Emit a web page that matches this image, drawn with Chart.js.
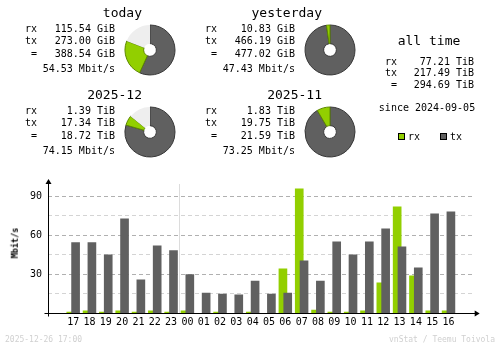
<!DOCTYPE html>
<html>
<head>
<meta charset="utf-8">
<title>vnStat summary</title>
<script src="https://cdn.jsdelivr.net/npm/chart.js@4/dist/chart.umd.min.js"></script>
<style>
  body { margin: 0; background: #fff; }
  #img { position: relative; width: 500px; height: 348px; overflow: hidden; background: #fff;
         font-family: "DejaVu Sans Mono", monospace; color: #000; }
  #img canvas { position: absolute; }
  .txt { position: absolute; white-space: pre; line-height: 1; transform: translateY(-50%); }
</style>
</head>
<body>
<div id="img">
  <canvas id="hours" width="500" height="348" style="left:0;top:0"></canvas>
</div>
<script>
// summary periods
const periods = ['today', 'yesterday', '2025-12', '2025-11'];
const rxTraffic = [115.54, 10.83, 1.39, 1.83];
const txTraffic = [273.00, 466.19, 17.34, 19.75];
const totalTraffic = [388.54, 477.02, 18.72, 21.59];
const trafficUnits = ['GiB', 'GiB', 'TiB', 'TiB'];
const avgRates = [54.53, 47.43, 74.15, 73.25];
// part of the period not yet elapsed (light slice of the donut)
const restTraffic = [92.1, 0, 3.09, 0];

// all time
const allTimeRx = 77.21;
const allTimeTx = 217.49;
const allTimeTotal = 294.69;
const allTimeUnit = 'TiB';
const sinceDate = '2024-09-05';

// last 24 hours, Mbit/s
const hours = ['17', '18', '19', '20', '21', '22', '23', '00', '01', '02', '03', '04',
               '05', '06', '07', '08', '09', '10', '11', '12', '13', '14', '15', '16'];
const rxRate = [1.0, 1.8, 1.0, 1.8, 1.0, 1.8, 1.0, 1.8, 0, 1.0, 0, 1.0,
                0, 34.1, 95.6, 2.5, 1.0, 1.0, 1.8, 23.3, 81.8, 28.7, 1.8, 1.8];
const txRate = [54.3, 54.3, 44.8, 72.5, 25.6, 51.8, 48.2, 29.7, 15.6, 14.8, 14.1, 24.8,
                14.8, 15.6, 40.2, 24.8, 54.8, 44.8, 54.8, 64.8, 51.0, 34.8, 76.4, 77.9];
const yTicks = [30, 60, 90];

const footerDate = '2025-12-26 17:00';
const footerCredit = 'vnStat / Teemu Toivola';

const RX = '#92CF00', RX_EDGE = '#5E8800';
const TX = '#606060', TX_EDGE = '#383838';
const REST = '#EEEEEE';

Chart.defaults.font.family = '"DejaVu Sans Mono", monospace';
Chart.defaults.color = '#000';

const img = document.getElementById('img');

function text(str, x, y, opts = {}) {
    const d = document.createElement('div');
    d.className = 'txt';
    d.textContent = str;
    d.style.fontSize = (opts.size || 10) + 'px';
    if (opts.color) d.style.color = opts.color;
    if (opts.bold) d.style.fontWeight = 'bold';
    d.style.top = y + 'px';
    if (opts.align === 'right') {
        d.style.right = (500 - x) + 'px';
    } else if (opts.align === 'center') {
        d.style.left = x + 'px';
        d.style.transform = 'translate(-50%, -50%)';
    } else {
        d.style.left = x + 'px';
    }
    img.appendChild(d);
    return d;
}

function donut(cx, cy, i) {
    const c = document.createElement('canvas');
    c.width = 56;
    c.height = 56;
    c.style.left = (cx - 28) + 'px';
    c.style.top = (cy - 28) + 'px';
    img.appendChild(c);
    new Chart(c, {
        type: 'doughnut',
        data: {
            datasets: [{
                data: [txTraffic[i], rxTraffic[i], restTraffic[i]],
                backgroundColor: [TX, RX, REST],
                borderColor: [TX_EDGE, RX_EDGE, REST],
                borderWidth: [1, 1, 0]
            }]
        },
        options: {
            responsive: false,
            animation: false,
            events: [],
            radius: 25,
            cutout: 7,
            plugins: {legend: {display: false}, tooltip: {enabled: false}}
        }
    });
}

// the four period blocks
periods.forEach((name, i) => {
    const ox = (i % 2) * 180;
    const oy = Math.floor(i / 2) * 82;
    const u = trafficUnits[i];
    text(name, ox + 142, oy + 12, {size: 13, align: 'right'});
    text('rx', ox + 25, oy + 28.5);
    text('tx', ox + 25, oy + 41);
    text(' =', ox + 25, oy + 53.5);
    text(rxTraffic[i].toFixed(2) + ' ' + u, ox + 115, oy + 28.5, {align: 'right'});
    text(txTraffic[i].toFixed(2) + ' ' + u, ox + 115, oy + 41, {align: 'right'});
    text(totalTraffic[i].toFixed(2) + ' ' + u, ox + 115, oy + 53.5, {align: 'right'});
    text(avgRates[i].toFixed(2) + ' Mbit/s', ox + 115, oy + 68.5, {align: 'right'});
    donut(ox + 150, oy + 50, i);
});

// all time block
text('all time', 429, 39.5, {size: 13, align: 'center'});
text('rx', 385, 61.5);
text('tx', 385, 73);
text(' =', 385, 85);
text(allTimeRx.toFixed(2) + ' ' + allTimeUnit, 474, 61.5, {align: 'right'});
text(allTimeTx.toFixed(2) + ' ' + allTimeUnit, 474, 73, {align: 'right'});
text(allTimeTotal.toFixed(2) + ' ' + allTimeUnit, 474, 85, {align: 'right'});
text('since ' + sinceDate, 427, 108, {align: 'center'});

// legend
[['rx', RX, 398], ['tx', TX, 440]].forEach(([name, col, x]) => {
    const sq = document.createElement('div');
    sq.style.cssText = `position:absolute;left:${x}px;top:133px;width:5px;height:5px;` +
                       `background:${col};border:1px solid #000`;
    img.appendChild(sq);
    text(name, x + 10, 136.5);
});

// footer
text(footerDate, 5, 340, {size: 8, color: '#D0D0D0'});
text(footerCredit, 495, 340, {size: 8, color: '#D0D0D0', align: 'right'});

// y axis title
const yt = text('Mbit/s', 15, 243, {size: 8.5, bold: true, align: 'center'});
yt.style.transform = 'translate(-50%, -50%) rotate(-90deg)';

// axes with arrows, and the day change marker
const hourAxes = {
    id: 'hourAxes',
    beforeDatasetsDraw(chart) {
        const {ctx, chartArea: a, scales: {x}} = chart;
        const sx = Math.round(x.getPixelForValue(hours.indexOf('00') - 0.5)) + 0.5;
        ctx.save();
        ctx.strokeStyle = '#DCDCDC';
        ctx.lineWidth = 1;
        ctx.beginPath();
        ctx.moveTo(sx, a.top + 4);
        ctx.lineTo(sx, a.bottom);
        ctx.stroke();
        ctx.restore();
    },
    afterDraw(chart) {
        const {ctx, chartArea: a} = chart;
        const l = Math.round(a.left) + 0.5;
        const b = Math.round(a.bottom) + 0.5;
        ctx.save();
        ctx.strokeStyle = '#000';
        ctx.fillStyle = '#000';
        ctx.lineWidth = 1;
        ctx.beginPath();
        ctx.moveTo(l, a.top);
        ctx.lineTo(l, b + 3);
        ctx.moveTo(l - 4, b);
        ctx.lineTo(a.right + 3, b);
        ctx.stroke();
        ctx.beginPath();
        ctx.moveTo(l, a.top - 1);
        ctx.lineTo(l - 3, a.top + 4);
        ctx.lineTo(l + 3, a.top + 4);
        ctx.closePath();
        ctx.fill();
        ctx.beginPath();
        ctx.moveTo(a.right + 6, b);
        ctx.lineTo(a.right + 1, b - 3);
        ctx.lineTo(a.right + 1, b + 3);
        ctx.closePath();
        ctx.fill();
        ctx.restore();
    }
};

const SHIFT = 0.147; // rx bar sits a little left of the hour, tx a little right
new Chart(document.getElementById('hours'), {
    type: 'bar',
    data: {
        datasets: [
            {
                label: 'rx',
                data: rxRate.map((v, i) => ({x: i - SHIFT, y: v})),
                backgroundColor: RX,
                order: 2
            },
            {
                label: 'tx',
                data: txRate.map((v, i) => ({x: i + SHIFT, y: v})),
                backgroundColor: TX,
                order: 1
            }
        ]
    },
    options: {
        responsive: false,
        animation: false,
        events: [],
        layout: {padding: {top: 180, right: 26.3, left: 0, bottom: 0}},
        datasets: {bar: {grouped: false, barThickness: 8, borderWidth: 0}},
        plugins: {legend: {display: false}, tooltip: {enabled: false}},
        scales: {
            x: {
                type: 'linear',
                min: -1,
                max: 24,
                afterFit: s => { s.height = 34.7; },
                grid: {display: false, drawTicks: false},
                border: {display: false},
                ticks: {
                    stepSize: 1,
                    autoSkip: false,
                    maxRotation: 0,
                    padding: 3,
                    font: {size: 10},
                    callback: v => (Number.isInteger(v) && hours[v] !== undefined) ? hours[v] : null
                }
            },
            y: {
                min: 0,
                max: 102.3,
                afterFit: s => { s.width = 48; },
                grid: {
                    drawTicks: false,
                    color: c => (c.tick.value % 30 === 0 ? '#B0B0B0' : '#D4D4D4')
                },
                border: {display: false, dash: [4, 3]},
                ticks: {
                    stepSize: 15,
                    padding: 6,
                    font: {size: 10},
                    callback: v => {
                        if (v <= 0 || v % 15 !== 0) return null;
                        return yTicks.includes(v) ? String(v) : '';
                    }
                }
            }
        }
    },
    plugins: [hourAxes]
});
</script>
</body>
</html>
